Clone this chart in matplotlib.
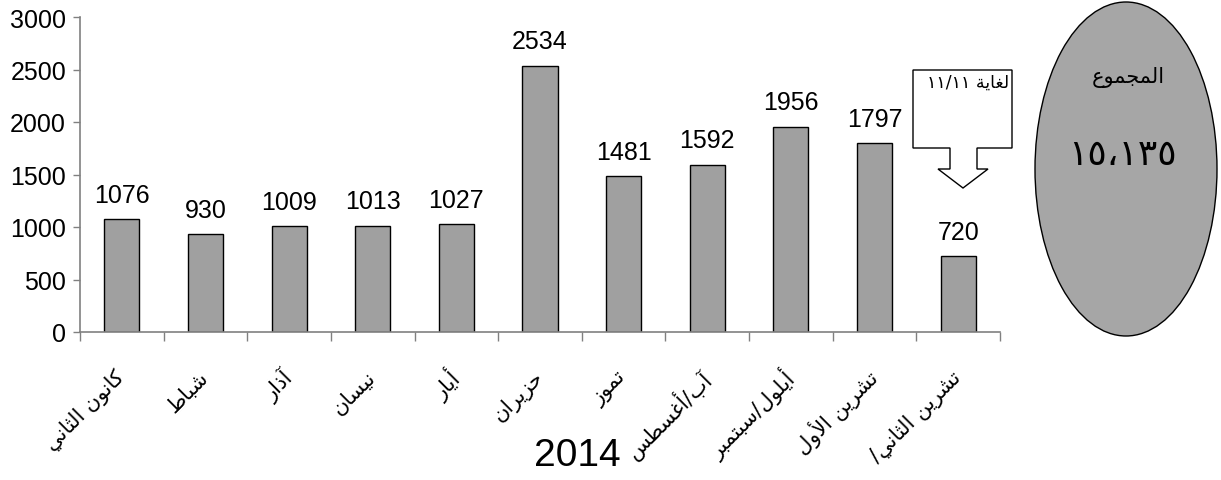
import matplotlib
matplotlib.use("Agg")
import matplotlib.pyplot as plt
from matplotlib import font_manager
from matplotlib.patches import Ellipse, Polygon

# data
months = ["كانون الثاني", "شباط", "آذار", "نيسان", "أيار", "حزيران", "تموز",
          "آب/أغسطس", "أيلول/سبتمبر", "تشرين الأول", "تشرين الثاني/"]
counts = [1076, 930, 1009, 1013, 1027, 2534, 1481, 1592, 1956, 1797, 720]
year_label = "2014"
note_label = "لغاية ١١/١١"
total_title = "المجموع"
total_value = "١٥،١٣٥"

# --- minimal arabic shaping (matplotlib has no text shaping) ---
ISO = {'ء': 0xFE80, 'آ': 0xFE81, 'أ': 0xFE83, 'ؤ': 0xFE85, 'إ': 0xFE87, 'ئ': 0xFE89,
       'ا': 0xFE8D, 'ب': 0xFE8F, 'ة': 0xFE93, 'ت': 0xFE95, 'ث': 0xFE99, 'ج': 0xFE9D,
       'ح': 0xFEA1, 'خ': 0xFEA5, 'د': 0xFEA9, 'ذ': 0xFEAB, 'ر': 0xFEAD, 'ز': 0xFEAF,
       'س': 0xFEB1, 'ش': 0xFEB5, 'ص': 0xFEB9, 'ض': 0xFEBD, 'ط': 0xFEC1, 'ظ': 0xFEC5,
       'ع': 0xFEC9, 'غ': 0xFECD, 'ف': 0xFED1, 'ق': 0xFED5, 'ك': 0xFED9, 'ل': 0xFEDD,
       'م': 0xFEE1, 'ن': 0xFEE5, 'ه': 0xFEE9, 'و': 0xFEED, 'ى': 0xFEEF, 'ي': 0xFEF1}
DUAL = set("ئبتثجحخسشصضطظعغفقكلمنهي")
LAM_ALEF = {'آ': 0xFEF5, 'أ': 0xFEF7, 'إ': 0xFEF9, 'ا': 0xFEFB}


def shape(s):
    units = []
    i = 0
    while i < len(s):
        if s[i] == 'ل' and i + 1 < len(s) and s[i + 1] in LAM_ALEF:
            units.append(('LA', s[i + 1]))
            i += 2
        else:
            units.append((s[i], None))
            i += 1

    def letter(u):
        return u is not None and (u == 'LA' or (u in ISO and u != 'ء'))

    out = []
    for k, (c, a) in enumerate(units):
        prev = units[k - 1][0] if k > 0 else None
        nxt = units[k + 1][0] if k + 1 < len(units) else None
        jp = letter(c) and prev in DUAL
        jn = c in DUAL and letter(nxt)
        if c == 'LA':
            out.append(chr(LAM_ALEF[a] + (1 if jp else 0)))
        elif c in DUAL:
            off = 3 if (jp and jn) else 1 if jp else 2 if jn else 0
            out.append(chr(ISO[c] + off))
        elif c in ISO:
            out.append(chr(ISO[c] + (1 if jp and c != 'ء' else 0)))
        else:
            out.append(c)
    return ''.join(out)[::-1]


names = {f.name for f in font_manager.fontManager.ttflist}
latin = 'Liberation Sans Narrow' if 'Liberation Sans Narrow' in names else 'Liberation Sans'
plt.rcParams['font.family'] = [latin, 'DejaVu Sans']

W, H = 1221, 481
fig = plt.figure(figsize=(W / 100, H / 100), dpi=100)


def fx(x):
    return x / W


def fy(y):
    return 1 - y / H


ax = fig.add_axes([fx(80), fy(333), fx(1000) - fx(80), fy(18) - fy(333)])

x = range(len(counts))
bars = ax.bar(x, counts, width=0.42, color='#a0a0a0', edgecolor='black', linewidth=1.0)
ax.bar_label(bars, labels=[str(v) for v in counts], padding=9, fontsize=18)

ax.set_xlim(-0.5, len(counts) - 0.5)
ax.set_ylim(0, 3000)
ax.set_yticks(range(0, 3001, 500))
ax.tick_params(axis='y', labelsize=18, length=5, width=1, color='#808080', pad=5)

ax.set_xticks(list(x))
ax.set_xticklabels([shape(m) for m in months], rotation=45, ha='right', va='center',
                   rotation_mode='anchor', fontsize=15, family='DejaVu Sans')
ax.tick_params(axis='x', which='major', length=0, pad=30)
ax.set_xticks([i - 0.5 for i in range(len(counts) + 1)], minor=True)
ax.tick_params(axis='x', which='minor', length=6.5, width=1, color='#808080')

for side in ('top', 'right'):
    ax.spines[side].set_visible(False)
for side in ('left', 'bottom'):
    ax.spines[side].set_color('#808080')
    ax.spines[side].set_linewidth(1.2)

fig.text(fx(577), fy(456), year_label, fontsize=28, ha='center', va='center')

# callout box with down arrow
pts = [(913, 71), (1012, 71), (1012, 149), (977, 149), (977, 170), (988, 170),
       (963, 189), (938, 170), (950, 170), (950, 149), (913, 149)]
fig.patches.append(Polygon([(fx(a), fy(b)) for a, b in pts], closed=True,
                           transform=fig.transFigure, facecolor='white',
                           edgecolor='black', linewidth=1.0))
fig.text(fx(1009), fy(83), shape(note_label), fontsize=12.5, ha='right', va='center',
         family='DejaVu Sans')

# total ellipse
fig.patches.append(Ellipse((fx(1126), fy(170)), fx(182), 334 / H,
                           transform=fig.transFigure, facecolor='#a6a6a6',
                           edgecolor='black', linewidth=1.0))
fig.text(fx(1128), fy(78), shape(total_title), fontsize=15, ha='center', va='center',
         family='DejaVu Sans')
fig.text(fx(1122), fy(155), total_value, fontsize=26, ha='center', va='center',
         family='DejaVu Sans')

fig.savefig('out.png', dpi=100)
